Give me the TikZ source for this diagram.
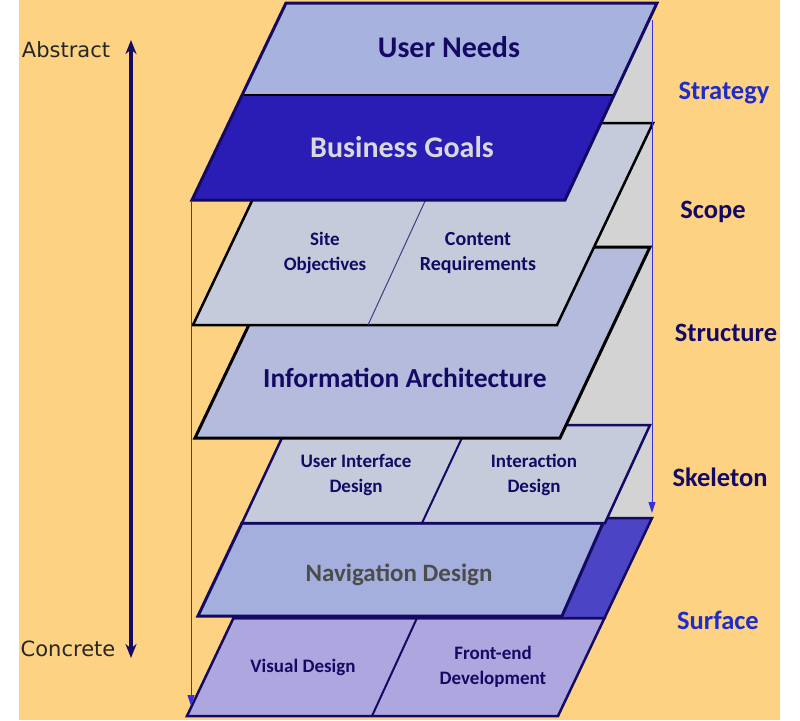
\documentclass[tikz,border=0pt]{standalone}
\usepackage{fontspec}
\setmainfont{Carlito}
\newfontfamily\sidefont{DejaVu Sans}
\usepackage{tikz}
\usetikzlibrary{arrows.meta}

\definecolor{paper}{RGB}{253,210,131}
\definecolor{ink}{RGB}{20,10,100}
\definecolor{inkblue}{RGB}{32,44,200}
\definecolor{needs}{RGB}{168,178,222}
\definecolor{goals}{RGB}{42,29,181}
\definecolor{scopefill}{RGB}{198,203,219}
\definecolor{iafill}{RGB}{180,187,221}
\definecolor{navfill}{RGB}{164,175,221}
\definecolor{surfdark}{RGB}{75,68,196}
\definecolor{surffill}{RGB}{174,166,222}
\definecolor{backgray}{RGB}{211,211,211}
\definecolor{guide}{RGB}{58,47,216}

\begin{document}
\begin{tikzpicture}
      [ x=1pt, y=-1pt,
        layer/.style={line width=2.5pt, line join=miter},
        split/.style={line width=1pt},
        guideline/.style={guide, line width=1pt, -{Triangle[length=11pt,width=7pt]}},
        word/.style={font=\bfseries\fontsize{19}{25}\selectfont, text=ink, align=center},
        bigword/.style={font=\bfseries\fontsize{30}{34}\selectfont, text=ink, anchor=mid},
        plane/.style={font=\bfseries\fontsize{26.5}{30}\selectfont, text=ink, anchor=mid},
        side/.style={font=\sidefont\fontsize{21}{24}\selectfont, text=black!85}
      ]
      \useasboundingbox (0,0) rectangle (800,720);
      \fill[white] (0,0) rectangle (800,720);
      \fill[paper] (19,0) rectangle (780,720);

      \fill[backgray] (440,20) rectangle (652,518);

      \draw[layer, ink, fill=surffill] (233.5,618) -- (604.5,618) -- (558,716) -- (187,716) -- cycle;
      \draw[layer, ink, fill=surfdark] (281,518) -- (652,518) -- (604.5,618) -- (233.5,618) -- cycle;
      \draw[split, ink, line width=2pt] (417,618) -- (372,716);
      \draw[layer, ink, line width=3pt, fill=navfill] (242,523) -- (603,523) -- (562,616) -- (198,616) -- cycle;

      \draw[layer, ink, fill=scopefill] (288,425) -- (650,425) -- (605,523) -- (242,523) -- cycle;
      \draw[split, ink, line width=2pt] (468,425) -- (422,523);

      \draw[layer, black, line width=3pt, fill=iafill] (286,247) -- (650,247) -- (560,438) -- (195,438) -- cycle;

      \draw[layer, black, fill=scopefill] (289,123) -- (653,123) -- (557,325) -- (193,325) -- cycle;
      \draw[split, ink!80] (461,123) -- (368,325);

      \fill[goals] (242,95) -- (615,95) -- (565,200) -- (192,200) -- cycle;
      \fill[needs] (286,3) -- (657,3) -- (615,95) -- (242,95) -- cycle;
      \draw[split, black, line width=1.5pt] (242,95) -- (615,95);
      \draw[layer, ink, line width=3pt] (286,3) -- (657,3) -- (565,200) -- (192,200) -- cycle;

      \coordinate (ltop) at (191,202);
      \coordinate (lbot) at (191,706);
      \coordinate (rtop) at (652,20);
      \coordinate (rbot) at (652,513);
      \draw[guideline] (ltop) -- (lbot);
      \draw[guideline] (rtop) -- (rbot);

      \node[bigword]                (needs) at (449,55)   {User Needs};
      \node[bigword, text=black!15] (goals) at (402,155)  {Business Goals};
      \node[word]                   (site)  at (325,253)  {Site\\Objectives};
      \node[word, font=\bfseries\fontsize{20}{25}\selectfont] (cont) at (478,253) {Content\\Requirements};
      \node[bigword, font=\bfseries\fontsize{27.5}{32}\selectfont] (ia) at (405,385) {Information Architecture};
      \node[word]                   (ui)    at (356,475)  {User Interface\\Design};
      \node[word]                   (inter) at (534,475)  {Interaction\\Design};
      \node[bigword, font=\bfseries\fontsize{25}{30}\selectfont, text=black!70] (nav) at (399,579) {Navigation Design};
      \node[word]                   (vis)   at (303,667)  {Visual Design};
      \node[word]                   (front) at (493,667)  {Front-end\\Development};

      \node[plane, text=inkblue] (strat)  at (724,97)  {Strategy};
      \node[plane]               (scope)  at (713,216) {Scope};
      \node[plane]               (struct) at (726,339) {Structure};
      \node[plane]               (skel)   at (720,484) {Skeleton};
      \node[plane, text=inkblue] (surf)   at (718,627) {Surface};

      \node[side] (abs) at (66,50)  {Abstract};
      \node[side] (con) at (68,649) {Concrete};
      \coordinate (up)   at (131,40);
      \coordinate (down) at (131,658);
      \draw[ink, line width=3.5pt, {Stealth[length=14pt,width=11pt]}-{Stealth[length=14pt,width=11pt]}] (up) -- (down);
    \end{tikzpicture}
\end{document}
